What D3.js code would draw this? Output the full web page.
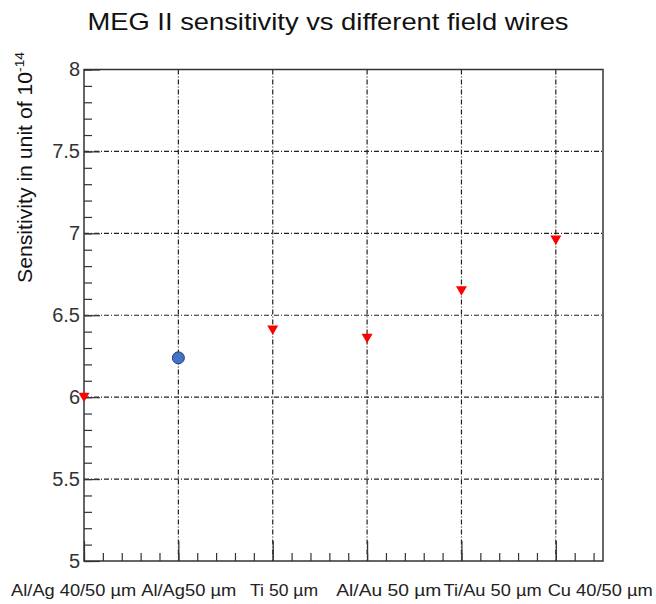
<!DOCTYPE html>
<html>
<head>
<meta charset="utf-8">
<script src="https://cdn.jsdelivr.net/npm/d3@7"></script>
<style>
  body { margin: 0; background: #fff; }
  svg { font-family: "Liberation Sans", Arial, sans-serif; }
</style>
</head>
<body>
<svg width="656" height="604"></svg>
<script>

// DATA

const wires = ["Al/Ag 40/50 \u00b5m", "Al/Ag50 \u00b5m", "Ti 50 \u00b5m", "Al/Au 50 \u00b5m", "Ti/Au 50 \u00b5m", "Cu 40/50 \u00b5m"];
const sensitivity = [6.00, 6.24, 6.41, 6.36, 6.65, 6.96];
const currentWire = 1;   // the blue dot, the rest are red triangles
const yMajor = [5, 5.5, 6, 6.5, 7, 7.5, 8];
const yTickLabels = ["5", "5.5", "6", "6.5", "7", "7.5", "8"];

// where the x labels sit, in axis units (they don't sit on the ticks), and how wide they are
const labelX = [-0.11, 1.11, 2.12, 3.23, 4.33, 5.47];
const labelW = [125, 95, 68, 105, 98, 105];


var svg = d3.select("svg");

var pLeft = 84, pRight = 603, pTop = 69.5, pBottom = 561;

var x = d3.scaleLinear().domain([0, 5.5]).range([pLeft, pRight]);
var y = d3.scaleLinear().domain([5, 8]).range([pBottom, pTop]);

// grid
var grid = svg.append("g")
    .attr("stroke", "#222")
    .attr("stroke-width", 1.2)
    .attr("stroke-dasharray", "5,2,1,2");

grid.selectAll(".hg")
    .data(yMajor.filter(function (d) { return d > 5 && d < 8; }))
    .enter().append("line")
    .attr("x1", pLeft).attr("x2", pRight)
    .attr("y1", function (d) { return y(d); })
    .attr("y2", function (d) { return y(d); });

grid.selectAll(".vg")
    .data(d3.range(1, 6))
    .enter().append("line")
    .attr("y1", pTop).attr("y2", pBottom)
    .attr("x1", function (d) { return x(d); })
    .attr("x2", function (d) { return x(d); });

// axes, ticks pointing inwards like ROOT
var yAxis = d3.axisLeft(y)
    .tickValues(yMajor)
    .tickSize(-16)
    .tickPadding(4)
    .tickFormat(function (d, i) { return yTickLabels[i]; });

var yMinor = d3.axisLeft(y)
    .tickValues(d3.range(50, 81).map(function (d) { return d / 10; }))
    .tickSize(-8)
    .tickFormat("");

var xAxis = d3.axisBottom(x)
    .tickValues(d3.range(0, 6))
    .tickSize(-20)
    .tickFormat("");

var xMinor = d3.axisBottom(x)
    .tickValues(d3.range(0, 28).map(function (d) { return d / 5; }))
    .tickSize(-8)
    .tickFormat("");

var gY = svg.append("g").attr("transform", "translate(" + pLeft + ",0)").call(yAxis);
svg.append("g").attr("transform", "translate(" + pLeft + ",0)").call(yMinor);
svg.append("g").attr("transform", "translate(0," + pBottom + ")").call(xAxis);
svg.append("g").attr("transform", "translate(0," + pBottom + ")").call(xMinor);

svg.selectAll(".domain").attr("stroke", "none");
svg.selectAll(".tick line").attr("stroke", "#333").attr("stroke-width", 1.2);
gY.selectAll(".tick text")
    .attr("font-size", 20)
    .attr("fill", "#333")
    .attr("font-family", "Liberation Sans, Arial, sans-serif");

// frame
svg.append("rect")
    .attr("x", pLeft).attr("y", pTop)
    .attr("width", pRight - pLeft).attr("height", pBottom - pTop)
    .attr("fill", "none")
    .attr("stroke", "#333")
    .attr("stroke-width", 1.5);

// x labels
svg.selectAll(".xlab")
    .data(wires)
    .enter().append("text")
    .attr("class", "xlab")
    .attr("x", function (d, i) { return x(labelX[i]); })
    .attr("y", 596)
    .attr("text-anchor", "middle")
    .attr("font-size", 17)
    .attr("fill", "#222")
    .attr("textLength", function (d, i) { return labelW[i]; })
    .attr("lengthAdjust", "spacingAndGlyphs")
    .text(function (d) { return d; });

// title
svg.append("text")
    .attr("x", 328)
    .attr("y", 30)
    .attr("text-anchor", "middle")
    .attr("font-size", 24)
    .attr("fill", "#111")
    .attr("textLength", 481)
    .attr("lengthAdjust", "spacingAndGlyphs")
    .text("MEG II sensitivity vs different field wires");

// y title
var yt = svg.append("text")
    .attr("transform", "translate(32,52) rotate(-90)")
    .attr("text-anchor", "end")
    .attr("font-size", 20)
    .attr("fill", "#111")
    .attr("textLength", 231)
    .attr("lengthAdjust", "spacingAndGlyphs");
yt.append("tspan").text("Sensitivity in unit of  10");
yt.append("tspan").attr("dy", -8).attr("font-size", 13).text("-14");

// points
var pts = wires.map(function (w, i) { return { i: i, v: sensitivity[i] }; });

svg.selectAll(".tri")
    .data(pts.filter(function (d) { return d.i !== currentWire; }))
    .enter().append("path")
    .attr("class", "tri")
    .attr("transform", function (d) { return "translate(" + x(d.i) + "," + y(d.v) + ")"; })
    .attr("d", "M-5.5,-4.5L5.5,-4.5L0,5Z")
    .attr("fill", "#ff0000");

svg.selectAll(".dot")
    .data(pts.filter(function (d) { return d.i === currentWire; }))
    .enter().append("circle")
    .attr("class", "dot")
    .attr("cx", function (d) { return x(d.i); })
    .attr("cy", function (d) { return y(d.v); })
    .attr("r", 6)
    .attr("fill", "#4472c4")
    .attr("stroke", "#1f3f7a")
    .attr("stroke-width", 1);

</script>
</body>
</html>
